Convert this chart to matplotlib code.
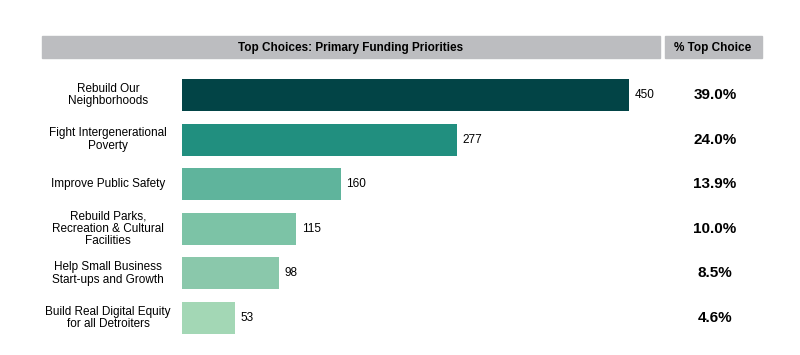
import matplotlib
matplotlib.use("Agg")
import matplotlib.pyplot as plt
from matplotlib.patches import Rectangle
from matplotlib.transforms import blended_transform_factory

categories = ["Rebuild Our\nNeighborhoods", "Fight Intergenerational\nPoverty",
              "Improve Public Safety", "Rebuild Parks,\nRecreation & Cultural\nFacilities",
              "Help Small Business\nStart-ups and Growth", "Build Real Digital Equity\nfor all Detroiters"]
values = [450, 277, 160, 115, 98, 53]
pct_labels = ["39.0%", "24.0%", "13.9%", "10.0%", "8.5%", "4.6%"]
colors = ["#024446", "#218f7f", "#5fb49c", "#7cc3a6", "#8ac8ab", "#a3d7b5"]
header_title = "Top Choices: Primary Funding Priorities"
header_pct = "% Top Choice"

plt.rcParams['font.family'] = ['Liberation Sans', 'DejaVu Sans']

W, H = 800, 355
fig = plt.figure(figsize=(8, 3.55), dpi=100)

def fx(px): return px / W
def fy(py): return 1 - py / H

# header bars
fig.patches.append(Rectangle((fx(42), fy(58)), fx(660 - 42), (58 - 36) / H,
                             transform=fig.transFigure, color="#bcbdc0", zorder=0))
fig.patches.append(Rectangle((fx(665), fy(58)), fx(762 - 665), (58 - 36) / H,
                             transform=fig.transFigure, color="#bcbdc0", zorder=0))
fig.text(fx(351), fy(47.5), header_title, ha="center", va="center", fontsize=8.5, fontweight="bold")
fig.text(fx(713), fy(47.5), header_pct, ha="center", va="center", fontsize=8.5, fontweight="bold")

top, bottom = 72.7, 340.3
ax = fig.add_axes([fx(182), (H - bottom) / H, 447 / W, (bottom - top) / H])
ypos = list(range(len(values)))
ax.barh(ypos, values, height=0.72, color=colors)
ax.set_xlim(0, 450)
ax.set_ylim(len(values) - 0.5, -0.5)
ax.axis("off")

tr = blended_transform_factory(fig.transFigure, ax.transData)
for y, v, lab, p in zip(ypos, values, categories, pct_labels):
    ax.annotate(str(v), (v, y), xytext=(4, 0), textcoords="offset points",
                ha="left", va="center", fontsize=8.5)
    ax.text(fx(108), y, lab, transform=tr, ha="center", va="center",
            fontsize=8.5, linespacing=1.05)
    ax.text(fx(715), y, p, transform=tr, ha="center", va="center",
            fontsize=11, fontweight="bold")

fig.savefig("out.png", dpi=100)
